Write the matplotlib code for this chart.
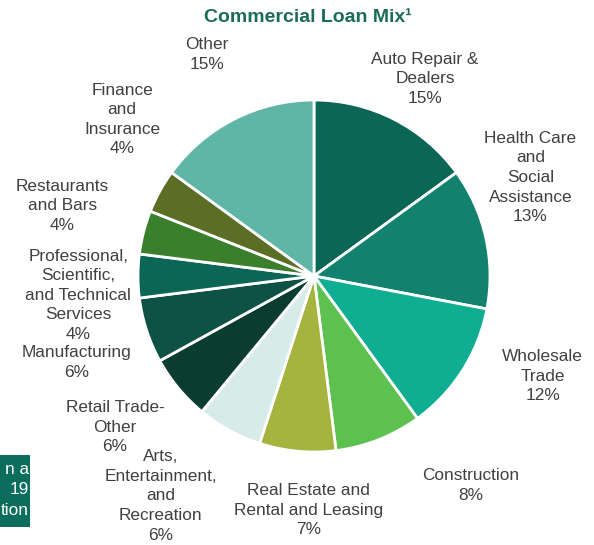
import matplotlib.pyplot as plt
from matplotlib.patches import Rectangle

plt.rcParams['font.family'] = ['Liberation Sans', 'DejaVu Sans']

# Anteile der Branchen am Commercial-Loan-Portfolio (%), im Uhrzeigersinn ab 12 Uhr
branchen = ['Auto Repair &\nDealers', 'Health Care\nand\nSocial\nAssistance', 'Wholesale\nTrade',
            'Construction', 'Real Estate and\nRental and Leasing',
            'Arts,\nEntertainment,\nand\nRecreation', 'Retail Trade-\nOther', 'Manufacturing',
            'Professional,\nScientific,\nand Technical\nServices', 'Restaurants\nand Bars',
            'Finance\nand\nInsurance', 'Other']
anteile = [15, 13, 12, 8, 7, 6, 6, 6, 4, 4, 4, 15]

farben = ['#0b6656', '#12826e', '#0fae92', '#5cc14f', '#a5b43e', '#d7ebe8',
          '#0a3d2f', '#0d5244', '#0c6655', '#3a7f2c', '#5a6e26', '#5fb5a6']

# Label-Positionen (in Radius-Einheiten)
label_pos = [(0.63, 1.12), (1.23, 0.56), (1.30, -0.57), (0.89, -1.19), (-0.03, -1.33),
             (-0.87, -1.25), (-1.13, -0.86), (-1.35, -0.49), (-1.34, -0.11),
             (-1.43, 0.40), (-1.09, 0.89), (-0.61, 1.26)]

W, H = 594, 545
cx, cy, R = 314, 276, 176

fig = plt.figure(figsize=(W / 100, H / 100), dpi=100)
ax = fig.add_axes([0, 0, 1, 1])

ax.pie(anteile, colors=farben, startangle=90, counterclock=False, radius=1,
       wedgeprops=dict(edgecolor='white', linewidth=2))

for name, wert, (x, y) in zip(branchen, anteile, label_pos):
    ax.text(x, y, f'{name}\n{wert}%', ha='center', va='center', fontsize=12.4,
            color='#404040', linespacing=1.38)

ax.set_xlim(-cx / R, (W - cx) / R)
ax.set_ylim(-(H - cy) / R, cy / R)
ax.set_aspect('auto')
ax.axis('off')

fig.text(308 / W, 1 - 18 / H, 'Commercial Loan Mix¹', ha='center', va='center',
         fontsize=14, fontweight='bold', color='#1a6b57')

# Kasten am linken Rand (angeschnitten)
fig.patches.append(Rectangle((0, 1 - 527 / H), 30 / W, 72 / H, transform=fig.transFigure,
                             facecolor='#0b6e5c', edgecolor='none'))
fig.text(29 / W, 1 - 490 / H, 'n a\n19\ntion', ha='right', va='center', fontsize=12.4,
         color='white', linespacing=1.45)

plt.savefig('out.png', dpi=100)
